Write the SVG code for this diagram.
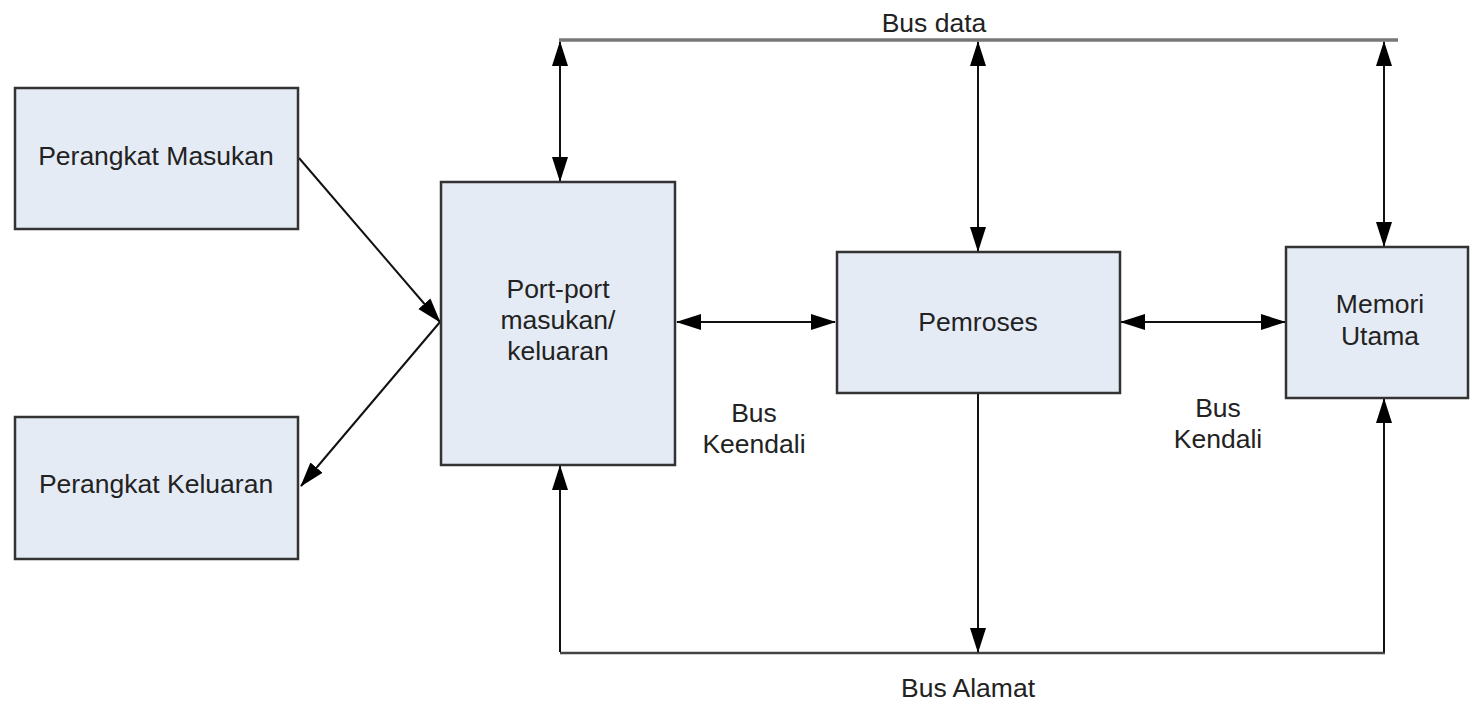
<svg xmlns="http://www.w3.org/2000/svg" width="1470" height="701" viewBox="0 0 1470 701">
<defs>
<marker id="ah" markerUnits="userSpaceOnUse" markerWidth="26" markerHeight="18" viewBox="0 0 26 18" refX="24" refY="9" orient="auto-start-reverse">
<path d="M0,1 L25,9 L0,17 Z" fill="#000"/>
</marker>
<style>
.box{fill:#e5ebf5;stroke:#333;stroke-width:2.5}
.t{font-family:"Liberation Sans",Arial,sans-serif;font-size:26.5px;fill:#222;text-anchor:middle}
.c{fill:none;stroke:#111;stroke-width:2}
.bus{fill:none;stroke:#777;stroke-width:3.5}
</style>
</defs>
<rect width="1470" height="701" fill="#fff"/>
<g id="connectors">
<line class="bus" x1="559" y1="40" x2="1398" y2="40"/>
<line class="bus" x1="560" y1="653" x2="1385" y2="653" style="stroke:#444;stroke-width:2.5"/>
<line class="c" x1="560" y1="42" x2="560" y2="181" marker-start="url(#ah)" marker-end="url(#ah)"/>
<line class="c" x1="978" y1="42" x2="978" y2="251" marker-start="url(#ah)" marker-end="url(#ah)"/>
<line class="c" x1="1384" y1="42" x2="1384" y2="246" marker-start="url(#ah)" marker-end="url(#ah)"/>
<line class="c" x1="677" y1="322" x2="835" y2="322" marker-start="url(#ah)" marker-end="url(#ah)"/>
<line class="c" x1="1121" y1="322" x2="1285" y2="322" marker-start="url(#ah)" marker-end="url(#ah)"/>
<line class="c" x1="299" y1="158" x2="440" y2="322" marker-end="url(#ah)"/>
<line class="c" x1="440" y1="322" x2="301" y2="486" marker-end="url(#ah)"/>
<line class="c" x1="560" y1="652" x2="560" y2="466" marker-end="url(#ah)"/>
<line class="c" x1="978" y1="394" x2="978" y2="652" marker-end="url(#ah)"/>
<line class="c" x1="1384" y1="652" x2="1384" y2="399" marker-end="url(#ah)"/>
<text class="t" x="934" y="32">Bus data</text>
<text class="t" x="968" y="697">Bus Alamat</text>
<text class="t" x="754" y="422">Bus</text>
<text class="t" x="754" y="453">Keendali</text>
<text class="t" x="1218" y="417">Bus</text>
<text class="t" x="1218" y="448">Kendali</text>
</g>
<g id="masukan">
<rect class="box" x="15" y="88" width="283" height="141"/>
<text class="t" x="156" y="165">Perangkat Masukan</text>
</g>
<g id="keluaran">
<rect class="box" x="15" y="417" width="283" height="142"/>
<text class="t" x="156" y="493">Perangkat Keluaran</text>
</g>
<g id="port">
<rect class="box" x="441" y="182" width="234" height="283"/>
<text class="t" x="558" y="298">Port-port</text>
<text class="t" x="558" y="329">masukan/</text>
<text class="t" x="558" y="360">keluaran</text>
</g>
<g id="pemroses">
<rect class="box" x="837" y="252" width="283" height="141"/>
<text class="t" x="978" y="331">Pemroses</text>
</g>
<g id="memori">
<rect class="box" x="1286" y="247" width="182" height="151"/>
<text class="t" x="1380" y="313">Memori</text>
<text class="t" x="1380" y="345">Utama</text>
</g>
</svg>
